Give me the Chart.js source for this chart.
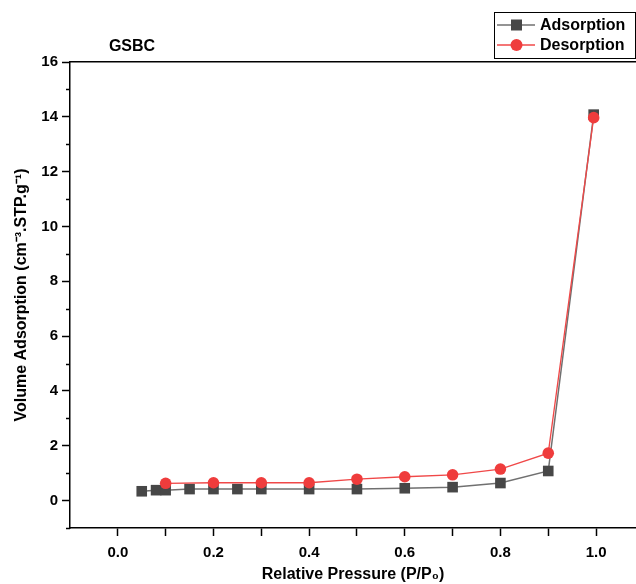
<!DOCTYPE html>
<html><head><meta charset="utf-8">
<script src="https://cdn.jsdelivr.net/npm/chart.js@4.4.0/dist/chart.umd.min.js"></script>
<style>html,body{margin:0;padding:0;background:#fff;overflow:hidden}canvas{display:block}</style>
</head><body>
<canvas id="c" width="636" height="584"></canvas>
<script>
const adsorptionP = [0.05, 0.08, 0.10, 0.15, 0.20, 0.25, 0.30, 0.40, 0.50, 0.60, 0.70, 0.80, 0.90, 0.995];
const adsorptionV = [0.34, 0.38, 0.38, 0.42, 0.42, 0.42, 0.42, 0.42, 0.42, 0.45, 0.49, 0.64, 1.08, 14.08];
const desorptionP = [0.10, 0.20, 0.30, 0.40, 0.50, 0.60, 0.70, 0.80, 0.90, 0.995];
const desorptionV = [0.63, 0.65, 0.65, 0.65, 0.78, 0.87, 0.94, 1.15, 1.73, 13.97];
const xTickValues = [0.0, 0.1, 0.2, 0.3, 0.4, 0.5, 0.6, 0.7, 0.8, 0.9, 1.0];
const yTickValues = [0, 2, 4, 6, 8, 10, 12, 14, 16];
const seriesLabels = ['Adsorption', 'Desorption'];
const chartTitle = 'GSBC';
const xTitle = 'Relative Pressure (P/P\u2080)';
const yTitle = 'Volume Adsorption (cm\u207B\u00B3.STP.g\u207B\u00B9)';

const FONT = '"Liberation Sans", Arial, Helvetica, sans-serif';
const adsColor = '#474747', adsLine = '#707070';
const desColor = '#ef3c3c', desLine = '#f04848';

const toPts = (xs, ys) => xs.map((x, i) => ({x: x, y: ys[i]}));

const decor = {
  id: 'decor',
  afterDraw(chart) {
    const ctx = chart.ctx, ys = chart.scales.y, ca = chart.chartArea;
    ctx.save();
    ctx.strokeStyle = '#000';
    ctx.lineWidth = 1.5;
    for (let v = -1; v < 16; v += 2) {
      const py = Math.round(ys.getPixelForValue(v)) + 0.5;
      ctx.beginPath(); ctx.moveTo(ca.left - 4, py); ctx.lineTo(ca.left, py); ctx.stroke();
    }
    ctx.fillStyle = '#000';
    ctx.font = 'bold 16px ' + FONT;
    ctx.textAlign = 'center';
    ctx.textBaseline = 'middle';
    ctx.fillText(chartTitle, 132, 47);
    ctx.lineWidth = 1;
    ctx.strokeStyle = '#000';
    ctx.strokeRect(494.5, 12.5, 141, 46);
    const rows = [
      {label: seriesLabels[0], y: 25, line: adsLine, fill: adsColor, style: 'rect'},
      {label: seriesLabels[1], y: 45, line: desLine, fill: desColor, style: 'circle'}
    ];
    rows.forEach(r => {
      ctx.strokeStyle = r.line; ctx.lineWidth = 1.3;
      ctx.beginPath(); ctx.moveTo(497, r.y); ctx.lineTo(535, r.y); ctx.stroke();
      ctx.fillStyle = r.fill;
      if (r.style === 'rect') { ctx.fillRect(511, r.y - 5.5, 11, 11); }
      else { ctx.beginPath(); ctx.arc(516.5, r.y, 6, 0, Math.PI * 2); ctx.fill(); }
      ctx.fillStyle = '#000';
      ctx.textAlign = 'left';
      ctx.font = 'bold 16px ' + FONT;
      ctx.fillText(r.label, 540, r.y + 1);
    });
    ctx.restore();
  }
};

const noPad = s => { s.paddingLeft = 0; s.paddingRight = 0; };

new Chart(document.getElementById('c'), {
  type: 'scatter',
  data: {
    datasets: [
      {
        label: seriesLabels[0], data: toPts(adsorptionP, adsorptionV), showLine: true,
        borderColor: adsLine, borderWidth: 1.5, pointStyle: 'rect', pointRadius: 7.5,
        pointBackgroundColor: adsColor, pointBorderColor: adsColor, pointBorderWidth: 0, order: 1
      },
      {
        label: seriesLabels[1], data: toPts(desorptionP, desorptionV), showLine: true,
        borderColor: desLine, borderWidth: 1.3, pointStyle: 'circle', pointRadius: 5.8,
        pointBackgroundColor: desColor, pointBorderColor: desColor, pointBorderWidth: 0, order: 0
      }
    ]
  },
  options: {
    responsive: false,
    animation: false,
    devicePixelRatio: 1,
    layout: {autoPadding: false, padding: {top: 62, right: 0, left: 0, bottom: 0}},
    plugins: {legend: {display: false}, tooltip: {enabled: false}},
    scales: {
      x: {
        type: 'linear', position: 'bottom', min: -0.1, max: 1.0835,
        afterBuildTicks: s => { s.ticks = xTickValues.map(v => ({value: v})); },
        afterFit: s => { s.height = 56; noPad(s); },
        ticks: {
          autoSkip: false, maxRotation: 0, color: '#000', padding: 8,
          font: {family: FONT, size: 15, weight: 'bold'},
          callback: v => (Math.round(v * 10) % 2 === 0 ? v.toFixed(1) : '')
        },
        grid: {display: true, drawOnChartArea: false, drawTicks: true, tickLength: 8, tickColor: '#000', tickWidth: 1.5},
        border: {display: true, color: '#000', width: 1.5},
        title: {display: true, text: xTitle, color: '#000', font: {family: FONT, size: 16, weight: 'bold'}, padding: {top: 0, bottom: 0}}
      },
      x2: {
        type: 'linear', position: 'top', min: -0.1, max: 1.0835,
        afterFit: s => { s.height = 0; noPad(s); },
        ticks: {display: false},
        grid: {display: false},
        border: {display: true, color: '#000', width: 1.5}
      },
      y: {
        type: 'linear', position: 'left', min: -1, max: 16,
        afterBuildTicks: s => { s.ticks = yTickValues.map(v => ({value: v})); },
        afterFit: s => { s.width = 70; },
        ticks: {color: '#000', padding: 4, font: {family: FONT, size: 15, weight: 'bold'}, callback: v => String(v)},
        grid: {display: true, drawOnChartArea: false, drawTicks: true, tickLength: 8, tickColor: '#000', tickWidth: 1.5},
        border: {display: true, color: '#000', width: 1.5},
        title: {display: true, text: yTitle, color: '#000', font: {family: FONT, size: 16, weight: 'bold'}, padding: {top: 12, bottom: 0}}
      }
    }
  },
  plugins: [decor]
});
</script>
</body></html>
